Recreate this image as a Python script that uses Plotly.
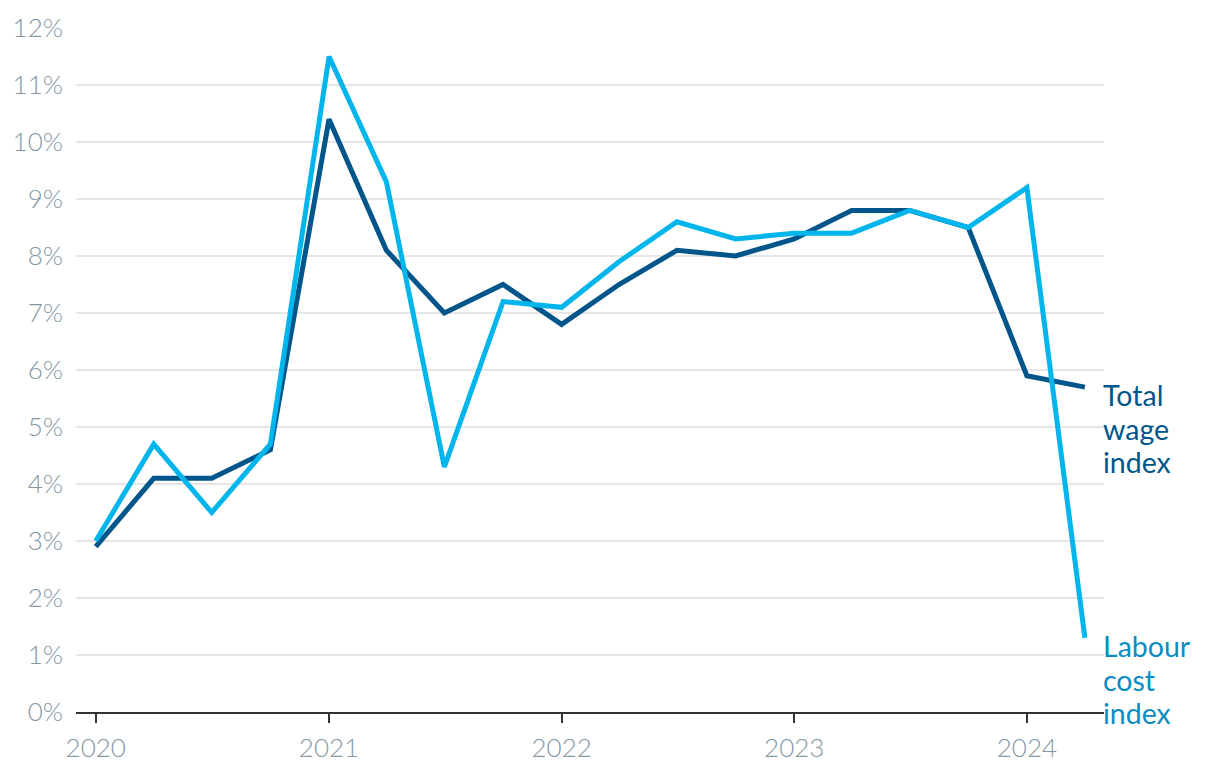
import plotly.graph_objects as go

quarters = ["2020-01-01", "2020-04-01", "2020-07-01", "2020-10-01",
            "2021-01-01", "2021-04-01", "2021-07-01", "2021-10-01",
            "2022-01-01", "2022-04-01", "2022-07-01", "2022-10-01",
            "2023-01-01", "2023-04-01", "2023-07-01", "2023-10-01",
            "2024-01-01", "2024-04-01"]
total_wage = [2.9, 4.1, 4.1, 4.6, 10.4, 8.1, 7.0, 7.5, 6.8, 7.5, 8.1, 8.0,
              8.3, 8.8, 8.8, 8.5, 5.9, 5.7]
labour_cost = [3.0, 4.7, 3.5, 4.7, 11.5, 9.3, 4.3, 7.2, 7.1, 7.9, 8.6, 8.3,
               8.4, 8.4, 8.8, 8.5, 9.2, 1.3]
year_ticks = ["2020-01-01", "2021-01-01", "2022-01-01", "2023-01-01", "2024-01-01"]
year_labels = ["2020", "2021", "2022", "2023", "2024"]
y_ticks = list(range(0, 13))
y_labels = [f"{v}%" for v in y_ticks]
total_label = ["Total", "wage", "index"]
labour_label = ["Labour", "cost", "index"]

DARK = "#00558a"
LIGHT = "#00b5eb"
LIGHT_TEXT = "#0a8cc2"
TICK = "#8598a2"

fig = go.Figure()
fig.add_trace(go.Scatter(x=quarters, y=total_wage, mode="lines",
                         line=dict(color=DARK, width=5), name="Total wage index"))
fig.add_trace(go.Scatter(x=quarters, y=labour_cost, mode="lines",
                         line=dict(color=LIGHT, width=5), name="Labour cost index"))

line_shifts = [-8, -42, -75]
for words, yval, col in [(total_label, total_wage[-1], DARK),
                         (labour_label, labour_cost[-1], LIGHT_TEXT)]:
    for w, s in zip(words, line_shifts):
        fig.add_annotation(x=1, xref="paper", y=yval, yref="y",
                           xanchor="left", yanchor="middle", xshift=-3, yshift=s,
                           text=w, showarrow=False, align="left",
                           font=dict(family="Lato", size=28.5, color=col))

fig.update_layout(
    width=1220, height=778,
    margin=dict(l=76, r=116, t=28, b=66),
    paper_bgcolor="white", plot_bgcolor="white",
    showlegend=False,
    font=dict(family="Lato"),
    xaxis=dict(
        type="date",
        range=["2019-12-01", "2024-05-01"],
        tickvals=year_ticks, ticktext=year_labels,
        ticks="outside", ticklen=9, tickwidth=2, tickcolor="#333333",
        showline=True, linecolor="#333333", linewidth=2,
        showgrid=False, zeroline=False,
        ticklabelstandoff=3,
        tickfont=dict(family="Lato", size=26, color=TICK, weight=300),
    ),
    yaxis=dict(
        range=[0, 12],
        tickvals=y_ticks, ticktext=y_labels,
        showgrid=True, gridcolor="#e6e6e6", gridwidth=2,
        zeroline=False, showline=False, ticks="",
        ticklabelstandoff=12,
        tickfont=dict(family="Lato", size=26, color=TICK, weight=300),
    ),
)

fig.write_html("out.html")
